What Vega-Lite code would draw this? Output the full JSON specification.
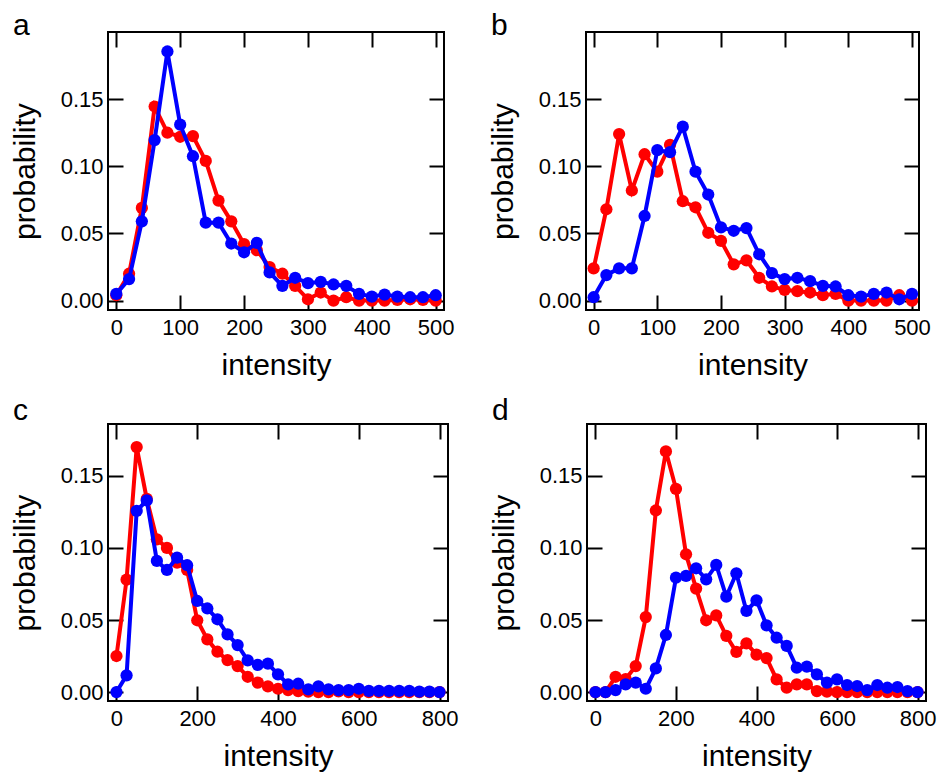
{
  "$schema": "https://vega.github.io/schema/vega-lite/v6.json",
  "background": "white",
  "padding": {"left": 9, "top": 10, "right": 5, "bottom": 2},
  "config": {
    "font": "Liberation Sans",
    "view": {"stroke": "black", "strokeWidth": 2},
    "axis": {
      "domain": false, "grid": false, "labelFlush": false, "labelOverlap": false,
      "labelFont": "Liberation Sans", "labelFontSize": 22, "labelColor": "black",
      "titleFont": "Liberation Sans", "titleFontSize": 30, "titleFontWeight": "normal", "titleColor": "black",
      "tickColor": "black", "tickWidth": 2, "tickSize": 15, "offset": -15, "zindex": 1
    },
    "title": {"font": "Liberation Sans", "fontSize": 30, "fontWeight": "normal", "color": "black", "anchor": "start", "frame": "group", "dx": -95, "baseline": "alphabetic"}
  },
  "datasets": {
    "a": [
      {"x":0,"p":0.004,"s":"r"},{"x":20,"p":0.02,"s":"r"},{"x":40,"p":0.069,"s":"r"},{"x":60,"p":0.1445,"s":"r"},{"x":80,"p":0.125,"s":"r"},{"x":100,"p":0.122,"s":"r"},{"x":120,"p":0.1225,"s":"r"},{"x":140,"p":0.104,"s":"r"},{"x":160,"p":0.0745,"s":"r"},{"x":180,"p":0.059,"s":"r"},{"x":200,"p":0.042,"s":"r"},{"x":220,"p":0.0375,"s":"r"},{"x":240,"p":0.025,"s":"r"},{"x":260,"p":0.02,"s":"r"},{"x":280,"p":0.011,"s":"r"},{"x":300,"p":0.001,"s":"r"},{"x":320,"p":0.006,"s":"r"},{"x":340,"p":0.0,"s":"r"},{"x":360,"p":0.0025,"s":"r"},{"x":380,"p":0.0,"s":"r"},{"x":400,"p":0.0,"s":"r"},{"x":420,"p":0.0,"s":"r"},{"x":440,"p":0.0005,"s":"r"},{"x":460,"p":0.001,"s":"r"},{"x":480,"p":0.0005,"s":"r"},{"x":500,"p":0.0,"s":"r"},
      {"x":0,"p":0.005,"s":"b"},{"x":20,"p":0.016,"s":"b"},{"x":40,"p":0.059,"s":"b"},{"x":60,"p":0.1195,"s":"b"},{"x":80,"p":0.1855,"s":"b"},{"x":100,"p":0.131,"s":"b"},{"x":120,"p":0.1075,"s":"b"},{"x":140,"p":0.058,"s":"b"},{"x":160,"p":0.058,"s":"b"},{"x":180,"p":0.0425,"s":"b"},{"x":200,"p":0.036,"s":"b"},{"x":220,"p":0.043,"s":"b"},{"x":240,"p":0.021,"s":"b"},{"x":260,"p":0.011,"s":"b"},{"x":280,"p":0.017,"s":"b"},{"x":300,"p":0.013,"s":"b"},{"x":320,"p":0.014,"s":"b"},{"x":340,"p":0.012,"s":"b"},{"x":360,"p":0.011,"s":"b"},{"x":380,"p":0.005,"s":"b"},{"x":400,"p":0.003,"s":"b"},{"x":420,"p":0.0045,"s":"b"},{"x":440,"p":0.003,"s":"b"},{"x":460,"p":0.0025,"s":"b"},{"x":480,"p":0.0025,"s":"b"},{"x":500,"p":0.004,"s":"b"}
    ],
    "b": [
      {"x":0,"p":0.024,"s":"r"},{"x":20,"p":0.068,"s":"r"},{"x":40,"p":0.124,"s":"r"},{"x":60,"p":0.082,"s":"r"},{"x":80,"p":0.109,"s":"r"},{"x":100,"p":0.096,"s":"r"},{"x":120,"p":0.116,"s":"r"},{"x":140,"p":0.074,"s":"r"},{"x":160,"p":0.0695,"s":"r"},{"x":180,"p":0.0505,"s":"r"},{"x":200,"p":0.0445,"s":"r"},{"x":220,"p":0.027,"s":"r"},{"x":240,"p":0.03,"s":"r"},{"x":260,"p":0.017,"s":"r"},{"x":280,"p":0.0105,"s":"r"},{"x":300,"p":0.008,"s":"r"},{"x":320,"p":0.007,"s":"r"},{"x":340,"p":0.006,"s":"r"},{"x":360,"p":0.004,"s":"r"},{"x":380,"p":0.005,"s":"r"},{"x":400,"p":0.0,"s":"r"},{"x":420,"p":0.0,"s":"r"},{"x":440,"p":0.0,"s":"r"},{"x":460,"p":0.0,"s":"r"},{"x":480,"p":0.004,"s":"r"},{"x":500,"p":0.0,"s":"r"},
      {"x":0,"p":0.0025,"s":"b"},{"x":20,"p":0.019,"s":"b"},{"x":40,"p":0.024,"s":"b"},{"x":60,"p":0.024,"s":"b"},{"x":80,"p":0.063,"s":"b"},{"x":100,"p":0.112,"s":"b"},{"x":120,"p":0.1105,"s":"b"},{"x":140,"p":0.1295,"s":"b"},{"x":160,"p":0.096,"s":"b"},{"x":180,"p":0.079,"s":"b"},{"x":200,"p":0.0545,"s":"b"},{"x":220,"p":0.052,"s":"b"},{"x":240,"p":0.054,"s":"b"},{"x":260,"p":0.0345,"s":"b"},{"x":280,"p":0.0205,"s":"b"},{"x":300,"p":0.016,"s":"b"},{"x":320,"p":0.017,"s":"b"},{"x":340,"p":0.0145,"s":"b"},{"x":360,"p":0.011,"s":"b"},{"x":380,"p":0.0105,"s":"b"},{"x":400,"p":0.004,"s":"b"},{"x":420,"p":0.003,"s":"b"},{"x":440,"p":0.005,"s":"b"},{"x":460,"p":0.006,"s":"b"},{"x":480,"p":0.001,"s":"b"},{"x":500,"p":0.005,"s":"b"}
    ],
    "c": [
      {"x":0,"p":0.025,"s":"r"},{"x":25,"p":0.078,"s":"r"},{"x":50,"p":0.17,"s":"r"},{"x":75,"p":0.134,"s":"r"},{"x":100,"p":0.106,"s":"r"},{"x":125,"p":0.1,"s":"r"},{"x":150,"p":0.0898,"s":"r"},{"x":175,"p":0.0847,"s":"r"},{"x":200,"p":0.0498,"s":"r"},{"x":225,"p":0.0366,"s":"r"},{"x":250,"p":0.028,"s":"r"},{"x":275,"p":0.0222,"s":"r"},{"x":300,"p":0.018,"s":"r"},{"x":325,"p":0.0106,"s":"r"},{"x":350,"p":0.0065,"s":"r"},{"x":375,"p":0.004,"s":"r"},{"x":400,"p":0.0023,"s":"r"},{"x":425,"p":0.0014,"s":"r"},{"x":450,"p":0.0007,"s":"r"},{"x":475,"p":0.0003,"s":"r"},{"x":500,"p":0.0,"s":"r"},{"x":525,"p":0.0,"s":"r"},{"x":550,"p":0.0005,"s":"r"},{"x":575,"p":0.0,"s":"r"},{"x":600,"p":0.0,"s":"r"},{"x":625,"p":0.0,"s":"r"},{"x":650,"p":0.0,"s":"r"},{"x":675,"p":0.0,"s":"r"},{"x":700,"p":0.0,"s":"r"},{"x":725,"p":0.0,"s":"r"},{"x":750,"p":0.0,"s":"r"},{"x":775,"p":0.0,"s":"r"},{"x":800,"p":0.0,"s":"r"},
      {"x":0,"p":0.0,"s":"b"},{"x":25,"p":0.0116,"s":"b"},{"x":50,"p":0.1257,"s":"b"},{"x":75,"p":0.133,"s":"b"},{"x":100,"p":0.091,"s":"b"},{"x":125,"p":0.0847,"s":"b"},{"x":150,"p":0.0933,"s":"b"},{"x":175,"p":0.088,"s":"b"},{"x":200,"p":0.0632,"s":"b"},{"x":225,"p":0.058,"s":"b"},{"x":250,"p":0.0505,"s":"b"},{"x":275,"p":0.04,"s":"b"},{"x":300,"p":0.0326,"s":"b"},{"x":325,"p":0.022,"s":"b"},{"x":350,"p":0.0188,"s":"b"},{"x":375,"p":0.0197,"s":"b"},{"x":400,"p":0.0123,"s":"b"},{"x":425,"p":0.0053,"s":"b"},{"x":450,"p":0.0058,"s":"b"},{"x":475,"p":0.0019,"s":"b"},{"x":500,"p":0.004,"s":"b"},{"x":525,"p":0.0019,"s":"b"},{"x":550,"p":0.0014,"s":"b"},{"x":575,"p":0.0014,"s":"b"},{"x":600,"p":0.0023,"s":"b"},{"x":625,"p":0.0008,"s":"b"},{"x":650,"p":0.0008,"s":"b"},{"x":675,"p":0.0008,"s":"b"},{"x":700,"p":0.0008,"s":"b"},{"x":725,"p":0.0008,"s":"b"},{"x":750,"p":0.0003,"s":"b"},{"x":775,"p":0.0003,"s":"b"},{"x":800,"p":0.0,"s":"b"}
    ],
    "d": [
      {"x":0,"p":0.0,"s":"r"},{"x":25,"p":0.0,"s":"r"},{"x":50,"p":0.0106,"s":"r"},{"x":75,"p":0.009,"s":"r"},{"x":100,"p":0.018,"s":"r"},{"x":125,"p":0.052,"s":"r"},{"x":150,"p":0.126,"s":"r"},{"x":175,"p":0.167,"s":"r"},{"x":200,"p":0.141,"s":"r"},{"x":225,"p":0.0956,"s":"r"},{"x":250,"p":0.0718,"s":"r"},{"x":275,"p":0.0498,"s":"r"},{"x":300,"p":0.0532,"s":"r"},{"x":325,"p":0.039,"s":"r"},{"x":350,"p":0.0278,"s":"r"},{"x":375,"p":0.0338,"s":"r"},{"x":400,"p":0.026,"s":"r"},{"x":425,"p":0.0236,"s":"r"},{"x":450,"p":0.0088,"s":"r"},{"x":475,"p":0.003,"s":"r"},{"x":500,"p":0.0053,"s":"r"},{"x":525,"p":0.0053,"s":"r"},{"x":550,"p":0.0007,"s":"r"},{"x":575,"p":0.0003,"s":"r"},{"x":600,"p":0.0,"s":"r"},{"x":625,"p":0.0,"s":"r"},{"x":650,"p":0.0,"s":"r"},{"x":675,"p":0.0,"s":"r"},{"x":700,"p":0.0,"s":"r"},{"x":725,"p":0.0,"s":"r"},{"x":750,"p":0.0,"s":"r"},{"x":775,"p":0.0,"s":"r"},{"x":800,"p":0.0,"s":"r"},
      {"x":0,"p":0.0,"s":"b"},{"x":25,"p":0.0,"s":"b"},{"x":50,"p":0.0014,"s":"b"},{"x":75,"p":0.0053,"s":"b"},{"x":100,"p":0.0065,"s":"b"},{"x":125,"p":0.0023,"s":"b"},{"x":150,"p":0.0164,"s":"b"},{"x":175,"p":0.0396,"s":"b"},{"x":200,"p":0.0794,"s":"b"},{"x":225,"p":0.0806,"s":"b"},{"x":250,"p":0.0859,"s":"b"},{"x":275,"p":0.0782,"s":"b"},{"x":300,"p":0.0882,"s":"b"},{"x":325,"p":0.0662,"s":"b"},{"x":350,"p":0.0824,"s":"b"},{"x":375,"p":0.0563,"s":"b"},{"x":400,"p":0.0637,"s":"b"},{"x":425,"p":0.0463,"s":"b"},{"x":450,"p":0.0377,"s":"b"},{"x":475,"p":0.032,"s":"b"},{"x":500,"p":0.0169,"s":"b"},{"x":525,"p":0.0176,"s":"b"},{"x":550,"p":0.0123,"s":"b"},{"x":575,"p":0.0065,"s":"b"},{"x":600,"p":0.0088,"s":"b"},{"x":625,"p":0.0049,"s":"b"},{"x":650,"p":0.0042,"s":"b"},{"x":675,"p":0.0014,"s":"b"},{"x":700,"p":0.0049,"s":"b"},{"x":725,"p":0.003,"s":"b"},{"x":750,"p":0.0035,"s":"b"},{"x":775,"p":0.0007,"s":"b"},{"x":800,"p":0.0,"s":"b"}
    ]
  },
  "vconcat": [
    {
      "hconcat": [
        {
          "width": 336, "height": 278,
          "title": {"text": "a", "offset": -10},
          "data": {"name": "a"},
          "layer": [
            {"transform": [{"filter": "datum.s == 'r'"}],
             "mark": {"type": "line", "color": "#ff0000", "strokeWidth": 4, "point": {"filled": true, "size": 150, "color": "#ff0000", "opacity": 1}},
             "encoding": {
               "x": {"field": "x", "type": "quantitative", "scale": {"domain": [-13, 513], "nice": false, "zero": false}, "axis": {"values": [0,100,200,300,400,500], "title": "intensity", "labelPadding": 7, "titlePadding": 12}},
               "y": {"field": "p", "type": "quantitative", "scale": {"domain": [-0.007, 0.2], "nice": false, "zero": false}, "axis": {"values": [0,0.05,0.1,0.15], "format": ".2f", "title": "probability", "labelPadding": 5, "titlePadding": 20}}
             }},
            {"transform": [{"filter": "datum.s == 'b'"}],
             "mark": {"type": "line", "color": "#0000ff", "strokeWidth": 4, "point": {"filled": true, "size": 150, "color": "#0000ff", "opacity": 1}},
             "encoding": {
               "x": {"field": "x", "type": "quantitative", "axis": {"orient": "top", "values": [0,100,200,300,400,500], "labels": false, "title": null}},
               "y": {"field": "p", "type": "quantitative", "axis": {"orient": "right", "values": [0,0.05,0.1,0.15], "labels": false, "title": null}}
             }}
          ],
          "resolve": {"axis": {"x": "independent", "y": "independent"}}
        },
        {
          "width": 333, "height": 278,
          "title": {"text": "b", "offset": -10},
          "data": {"name": "b"},
          "layer": [
            {"transform": [{"filter": "datum.s == 'r'"}],
             "mark": {"type": "line", "color": "#ff0000", "strokeWidth": 4, "point": {"filled": true, "size": 150, "color": "#ff0000", "opacity": 1}},
             "encoding": {
               "x": {"field": "x", "type": "quantitative", "scale": {"domain": [-12, 511], "nice": false, "zero": false}, "axis": {"values": [0,100,200,300,400,500], "title": "intensity", "labelPadding": 7, "titlePadding": 12}},
               "y": {"field": "p", "type": "quantitative", "scale": {"domain": [-0.007, 0.2], "nice": false, "zero": false}, "axis": {"values": [0,0.05,0.1,0.15], "format": ".2f", "title": "probability", "labelPadding": 5, "titlePadding": 20}}
             }},
            {"transform": [{"filter": "datum.s == 'b'"}],
             "mark": {"type": "line", "color": "#0000ff", "strokeWidth": 4, "point": {"filled": true, "size": 150, "color": "#0000ff", "opacity": 1}},
             "encoding": {
               "x": {"field": "x", "type": "quantitative", "axis": {"orient": "top", "values": [0,100,200,300,400,500], "labels": false, "title": null}},
               "y": {"field": "p", "type": "quantitative", "axis": {"orient": "right", "values": [0,0.05,0.1,0.15], "labels": false, "title": null}}
             }}
          ],
          "resolve": {"axis": {"x": "independent", "y": "independent"}}
        }
      ],
      "spacing": 31
    },
    {
      "hconcat": [
        {
          "width": 340, "height": 277,
          "title": {"text": "c", "offset": -3},
          "data": {"name": "c"},
          "layer": [
            {"transform": [{"filter": "datum.s == 'r'"}],
             "mark": {"type": "line", "color": "#ff0000", "strokeWidth": 4, "point": {"filled": true, "size": 150, "color": "#ff0000", "opacity": 1}},
             "encoding": {
               "x": {"field": "x", "type": "quantitative", "scale": {"domain": [-21, 821], "nice": false, "zero": false}, "axis": {"values": [0,200,400,600,800], "title": "intensity", "labelPadding": 7, "titlePadding": 12}},
               "y": {"field": "p", "type": "quantitative", "scale": {"domain": [-0.0062, 0.186], "nice": false, "zero": false}, "axis": {"values": [0,0.05,0.1,0.15], "format": ".2f", "title": "probability", "labelPadding": 5, "titlePadding": 20}}
             }},
            {"transform": [{"filter": "datum.s == 'b'"}],
             "mark": {"type": "line", "color": "#0000ff", "strokeWidth": 4, "point": {"filled": true, "size": 150, "color": "#0000ff", "opacity": 1}},
             "encoding": {
               "x": {"field": "x", "type": "quantitative", "axis": {"orient": "top", "values": [0,200,400,600,800], "labels": false, "title": null}},
               "y": {"field": "p", "type": "quantitative", "axis": {"orient": "right", "values": [0,0.05,0.1,0.15], "labels": false, "title": null}}
             }}
          ],
          "resolve": {"axis": {"x": "independent", "y": "independent"}}
        },
        {
          "width": 339, "height": 277,
          "title": {"text": "d", "offset": -3},
          "data": {"name": "d"},
          "layer": [
            {"transform": [{"filter": "datum.s == 'r'"}],
             "mark": {"type": "line", "color": "#ff0000", "strokeWidth": 4, "point": {"filled": true, "size": 150, "color": "#ff0000", "opacity": 1}},
             "encoding": {
               "x": {"field": "x", "type": "quantitative", "scale": {"domain": [-21, 821], "nice": false, "zero": false}, "axis": {"values": [0,200,400,600,800], "title": "intensity", "labelPadding": 7, "titlePadding": 12}},
               "y": {"field": "p", "type": "quantitative", "scale": {"domain": [-0.0062, 0.186], "nice": false, "zero": false}, "axis": {"values": [0,0.05,0.1,0.15], "format": ".2f", "title": "probability", "labelPadding": 5, "titlePadding": 20}}
             }},
            {"transform": [{"filter": "datum.s == 'b'"}],
             "mark": {"type": "line", "color": "#0000ff", "strokeWidth": 4, "point": {"filled": true, "size": 150, "color": "#0000ff", "opacity": 1}},
             "encoding": {
               "x": {"field": "x", "type": "quantitative", "axis": {"orient": "top", "values": [0,200,400,600,800], "labels": false, "title": null}},
               "y": {"field": "p", "type": "quantitative", "axis": {"orient": "right", "values": [0,0.05,0.1,0.15], "labels": false, "title": null}}
             }}
          ],
          "resolve": {"axis": {"x": "independent", "y": "independent"}}
        }
      ],
      "spacing": 29
    }
  ],
  "spacing": 14
}
